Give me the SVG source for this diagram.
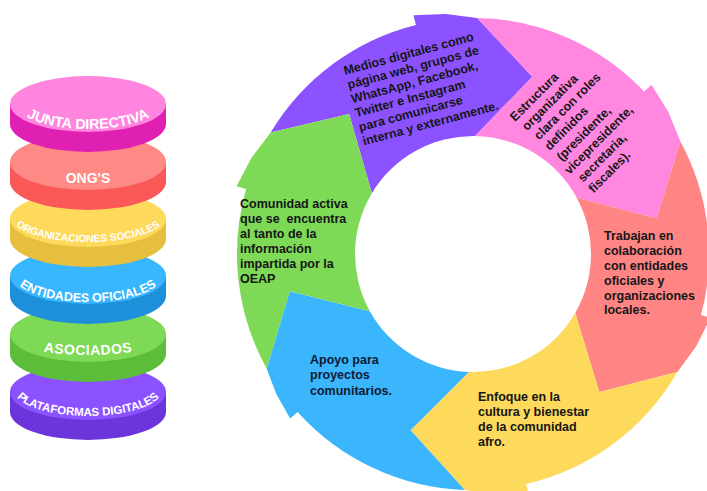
<svg xmlns="http://www.w3.org/2000/svg" width="707" height="491" viewBox="0 0 707 491">
<style>
.t{font-family:"Liberation Sans",Arial,sans-serif;font-weight:bold;font-size:12.5px;fill:#161616}
.d{font-family:"Liberation Sans",Arial,sans-serif;font-weight:bold;fill:#ffffff}
</style>
<defs>
<path id="p1" d="M14,102 A74,27 0 0 0 162,102"/>
<path id="p3" d="M12,218 A76,24 0 0 0 164,218"/>
<path id="p4" d="M14,276 A74,26 0 0 0 162,276"/>
<path id="p5" d="M38,351 Q88,359 138,351"/>
<path id="p6" d="M14,390 A74,26 0 0 0 162,390"/>
</defs>
<rect width="707" height="491" fill="#ffffff"/>

<!-- stack of discs, drawn bottom to top -->
<g id="plataformas">
<path d="M10,392 L10,412 A78,28 0 0 0 166,412 L166,392 Z" fill="#6c35dc"/>
<ellipse cx="88" cy="392" rx="78" ry="28" fill="#8c52ff"/>
<text class="d" font-size="11.5" text-anchor="middle"><textPath href="#p6" startOffset="50%">PLATAFORMAS DIGITALES</textPath></text>
</g>
<g id="asociados">
<path d="M10,334 L10,354 A78,28 0 0 0 166,354 L166,334 Z" fill="#5cbd3a"/>
<ellipse cx="88" cy="334" rx="78" ry="28" fill="#7ed957"/>
<text class="d" font-size="14" letter-spacing="0.5" text-anchor="middle"><textPath href="#p5" startOffset="50%">ASOCIADOS</textPath></text>
</g>
<g id="entidades">
<path d="M10,276 L10,296 A78,28 0 0 0 166,296 L166,276 Z" fill="#1e8fd9"/>
<ellipse cx="88" cy="276" rx="78" ry="28" fill="#38b6ff"/>
<text class="d" font-size="12.5" text-anchor="middle"><textPath href="#p4" startOffset="50%">ENTIDADES OFICIALES</textPath></text>
</g>
<g id="organizaciones">
<path d="M10,219 L10,239 A78,28 0 0 0 166,239 L166,219 Z" fill="#e6bf3e"/>
<ellipse cx="88" cy="219" rx="78" ry="28" fill="#fdd95c"/>
<text class="d" font-size="10.3" text-anchor="middle"><textPath href="#p3" startOffset="50%">ORGANIZACIONES SOCIALES</textPath></text>
</g>
<g id="ongs">
<path d="M10,162 L10,182 A78,28 0 0 0 166,182 L166,162 Z" fill="#fb5858"/>
<ellipse cx="88" cy="162" rx="78" ry="28" fill="#ff8a85"/>
<text class="d" font-size="14" x="88" y="183" text-anchor="middle">ONG'S</text>
</g>
<g id="junta">
<path d="M10,104 L10,124 A78,28 0 0 0 166,124 L166,104 Z" fill="#e01fb3"/>
<ellipse cx="88" cy="104" rx="78" ry="28" fill="#ff85df"/>
<text class="d" font-size="14.3" text-anchor="middle"><textPath href="#p1" startOffset="50%">JUNTA DIRECTIVA</textPath></text>
</g>

<!-- circular arrows -->
<g id="medios">
<path d="M270.7,132.5 A236,236 0 0 1 415.9,25.0 L413.5,15.3 L445.7,14.0 L477.1,18.0 L532.3,76.7 L475.1,136.0 A118,118 0 0 0 371.9,193.2 L349.1,113.9 Z" fill="#8c52ff"/>
<text class="t" transform="translate(345,75) rotate(-15)">
<tspan x="0" y="0">Medios digitales como</tspan>
<tspan x="0" y="14.6">página web, grupos de</tspan>
<tspan x="0" y="29.2">WhatsApp, Facebook,</tspan>
<tspan x="0" y="43.8">Twitter e Instagram</tspan>
<tspan x="0" y="58.4">para comunicarse</tspan>
<tspan x="0" y="73">interna y externamente.</tspan>
</text>
</g>
<g id="estructura">
<path d="M477.1,18.0 A236,236 0 0 1 644.2,91.5 L651.5,84.7 L668.4,112.0 L680.4,141.4 L656.6,218.3 L576.7,197.7 A118,118 0 0 0 475.1,136.0 L532.3,76.7 Z" fill="#ff87e0"/>
<text class="t" transform="translate(515,122) rotate(-45)">
<tspan x="0" y="0">Estructura</tspan>
<tspan x="2" y="15">organizativa</tspan>
<tspan x="4" y="30">clara con roles</tspan>
<tspan x="4" y="45">definidos</tspan>
<tspan x="5" y="61">(presidente,</tspan>
<tspan x="1" y="76">vicepresidente,</tspan>
<tspan x="5" y="91">secretaria,</tspan>
<tspan x="5" y="106">fiscales).</tspan>
</text>
</g>
<g id="trabajan">
<path d="M680.4,141.4 A236,236 0 0 1 701.0,315.1 L710.6,317.7 L696.1,346.4 L677.4,372 L599.3,391.9 L575.2,313 A118,118 0 0 0 576.7,197.7 L656.6,218.3 Z" fill="#ff8585"/>
<text class="t">
<tspan x="604" y="240">Trabajan en</tspan>
<tspan x="604" y="255">colaboración</tspan>
<tspan x="604" y="270">con entidades</tspan>
<tspan x="604" y="285">oficiales y</tspan>
<tspan x="604" y="299.5">organizaciones</tspan>
<tspan x="604" y="314">locales.</tspan>
</text>
</g>
<g id="enfoque">
<path d="M677.4,372 A236,236 0 0 1 526.1,484.0 L528.4,493.7 L496.1,494.4 L464.8,489.9 L410.6,430.3 L468.9,371.9 A118,118 0 0 0 575.2,313 L599.3,391.9 Z" fill="#fdd95c"/>
<text class="t">
<tspan x="478" y="401">Enfoque en la</tspan>
<tspan x="478" y="416">cultura y bienestar</tspan>
<tspan x="478" y="431">de la comunidad</tspan>
<tspan x="478" y="446">afro.</tspan>
</text>
</g>
<g id="apoyo">
<path d="M464.8,489.9 A236,236 0 0 1 297.6,411.9 L290.2,418.6 L276.4,394.2 L266.6,368.4 L289.8,291.3 L369.8,311.2 A118,118 0 0 0 468.9,371.9 L410.6,430.3 Z" fill="#3bb6fd"/>
<text class="t" style="fill:#0f1a33">
<tspan x="310" y="364">Apoyo para</tspan>
<tspan x="310" y="379">proyectos</tspan>
<tspan x="310" y="394.5">comunitarios.</tspan>
</text>
</g>
<g id="comunidad">
<path d="M266.6,368.4 A236,236 0 0 1 246.1,189.0 L236.5,186.2 L251.5,157.7 L270.7,132.5 L349.1,113.9 L371.9,193.2 A118,118 0 0 0 369.8,311.2 L289.8,291.3 Z" fill="#7ed957"/>
<text class="t" xml:space="preserve"><tspan x="240" y="208">Comunidad activa</tspan><tspan x="240" y="223">que se  encuentra</tspan><tspan x="240" y="238">al tanto de la</tspan><tspan x="240" y="253">información</tspan><tspan x="240" y="268">impartida por la</tspan><tspan x="240" y="283">OEAP</tspan></text>
</g>
<g id="connectors"/>
</svg>
